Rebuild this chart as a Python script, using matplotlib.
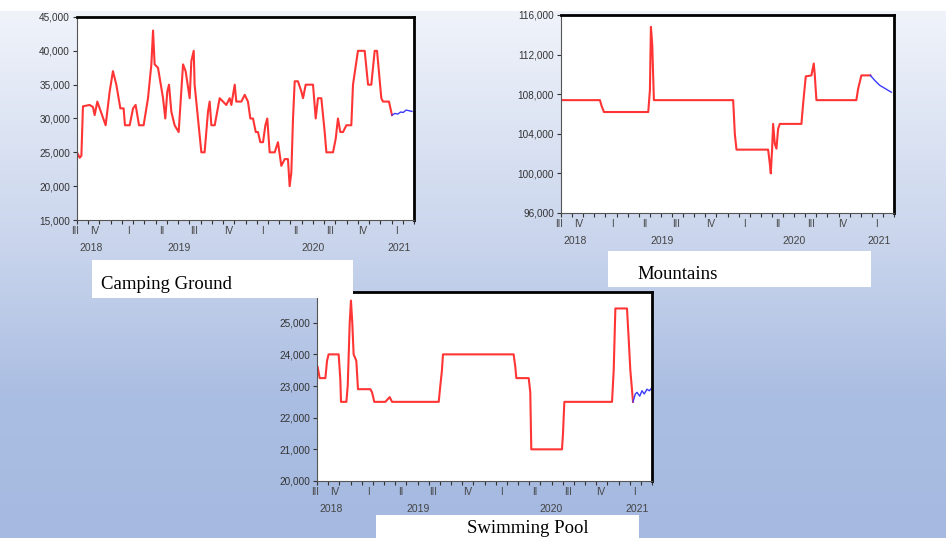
import numpy as np
import matplotlib
matplotlib.use('Agg')
import matplotlib.pyplot as plt
from matplotlib.patches import Rectangle

# time axis in months from the start of the sample (late Q3 2018)
quarter_labels = ['III', 'IV', 'I', 'II', 'III', 'IV', 'I', 'II', 'III', 'IV', 'I']
quarter_pos = [-0.2, 1.6, 4.6, 7.5, 10.4, 13.5, 16.5, 19.5, 22.5, 25.4, 28.4]
year_labels = ['2018', '2019', '2020', '2021']
year_pos = [1.3, 9.1, 21.0, 28.7]

# Camping Ground
camp_t = [0.00, 0.24, 0.39, 0.53, 1.13, 1.42, 1.57, 1.81, 2.02, 2.55, 2.91, 3.20, 3.50, 3.86,
          4.15, 4.27, 4.69, 4.99, 5.22, 5.52, 5.93, 6.32, 6.62, 6.77, 6.91, 7.21, 7.66, 7.86,
          8.04, 8.19, 8.40, 8.69, 9.05, 9.44, 9.67, 10.03, 10.18, 10.39, 10.47, 10.77, 11.07,
          11.36, 11.66, 11.81, 11.96, 12.26, 12.70, 13.00, 13.29, 13.59, 13.74, 14.04, 14.18,
          14.63, 14.93, 15.22, 15.43, 15.67, 15.91, 16.11, 16.32, 16.56, 16.77, 16.94, 17.15,
          17.60, 17.89, 18.19, 18.49, 18.78, 18.93, 19.08, 19.23, 19.38, 19.67, 19.97, 20.12,
          20.36, 21.01, 21.25, 21.45, 21.75, 22.05, 22.20, 22.79, 23.03, 23.23, 23.44, 23.68,
          23.98, 24.42, 24.57, 25.01, 25.61, 25.91, 26.20, 26.50, 26.71, 27.09, 27.24, 27.77, 28.04]
camp_v = [25000, 24200, 24500, 31800, 32000, 31700, 30500, 32500, 31500, 29000, 34000, 37000,
          35000, 31500, 31500, 29000, 29000, 31500, 32000, 29000, 29000, 33000, 38000, 43000,
          38000, 37500, 33000, 30000, 34000, 35000, 31000, 29000, 28000, 38000, 37000, 33000,
          38500, 40000, 35000, 30000, 25000, 25000, 31000, 32500, 29000, 29000, 33000, 32500,
          32000, 33000, 32000, 35000, 32500, 32500, 33500, 32500, 30000, 30000, 28000, 28000,
          26500, 26500, 29000, 30000, 25000, 25000, 26500, 23000, 24000, 24000, 20000, 22000,
          30000, 35500, 35500, 34000, 33000, 35000, 35000, 30000, 33000, 33000, 28000, 25000,
          25000, 27000, 30000, 28000, 28000, 29000, 29000, 35000, 40000, 40000, 35000, 35000,
          40000, 40000, 33000, 32500, 32500, 30500]
camp_fc_t = [28.04, 28.30, 28.55, 28.80, 29.05, 29.30, 29.55, 29.82]
camp_fc_v = [30500, 30750, 30650, 30950, 30900, 31250, 31150, 31050]

# Mountains
mount_t = [0, 3.51, 3.66, 3.87, 7.86, 8.01, 8.10, 8.22, 8.31, 8.37, 15.51, 15.66, 15.81, 18.66,
           18.81, 18.90, 19.02, 19.11, 19.26, 19.41, 19.56, 19.71, 21.66, 21.81, 22.05, 22.56,
           22.77, 22.86, 23.01, 26.61, 26.76, 27.06, 27.87]
mount_v = [107400, 107400, 106800, 106200, 106200, 108400, 114800, 113000, 109600, 107400,
           107400, 104000, 102400, 102400, 101000, 100000, 102500, 105000, 103000, 102500,
           104500, 105000, 105000, 107000, 109800, 109900, 111100, 110000, 107400, 107400,
           108500, 109900, 109900]
mount_fc_t = [27.87, 28.26, 28.71, 29.16, 29.76]
mount_fc_v = [109900, 109400, 108900, 108600, 108200]

# Swimming Pool
swim_t = [0.06, 0.24, 0.75, 0.90, 1.04, 1.94, 2.09, 2.15, 2.63, 2.75, 2.93, 3.04, 3.16, 3.28,
          3.52, 3.67, 4.78, 4.93, 5.13, 6.12, 6.51, 6.72, 10.90, 11.04, 11.19, 11.28, 17.61,
          17.76, 17.85, 18.96, 19.10, 19.19, 21.94, 22.03, 22.15, 26.42, 26.57, 26.72, 27.76,
          27.91, 28.06, 28.30]
swim_v = [23600, 23250, 23250, 23800, 24000, 24000, 23200, 22500, 22500, 23000, 25000, 25700,
          25000, 24000, 23800, 22900, 22900, 22800, 22500, 22500, 22650, 22500, 22500, 23000,
          23500, 24000, 24000, 23600, 23250, 23250, 22800, 21000, 21000, 21500, 22500, 22500,
          23500, 25450, 25450, 24500, 23500, 22500]
swim_fc_t = [28.30, 28.51, 28.66, 28.90, 29.10, 29.31, 29.55, 29.76, 30.0]
swim_fc_v = [22500, 22750, 22800, 22680, 22850, 22750, 22900, 22850, 22950]

W, H = 946, 538
fig = plt.figure(figsize=(W / 100, H / 100), dpi=100)

# slide background: white strip then blue gradient
bg = fig.add_axes([0, 0, 1, 1], zorder=-10)
ys = np.arange(H)
stop_y = [0, 10, 11, 250, 400, 538]
stop_c = np.array([[255, 255, 255], [255, 255, 255], [240, 243, 250],
                   [200, 212, 236], [170, 189, 226], [166, 186, 225]]) / 255
grad = np.stack([np.interp(ys, stop_y, stop_c[:, i]) for i in range(3)], axis=1)
bg.imshow(np.repeat(grad[:, None, :], W, axis=1), extent=[0, W, H, 0], aspect='auto')
bg.axis('off')


def px_axes(x0, y0, x1, y1):
    return fig.add_axes([x0 / W, 1 - y1 / H, (x1 - x0) / W, (y1 - y0) / H])


def draw(ax, t, v, ft, fv, ylim, yticks):
    ax.plot(t, v, color='#ff3535', lw=1.5)
    ax.plot(ft, fv, color='#3a3aff', lw=1.0)
    ax.set_xlim(0, 30)
    ax.set_ylim(*ylim)
    ax.set_yticks(yticks)
    ax.set_yticklabels([f'{y:,}' for y in yticks], fontsize=7.2, color='#333333',
                       family='Liberation Sans')
    ax.set_xticks(np.arange(0, 31))
    ax.set_xticklabels([])
    ax.tick_params(direction='out', length=3, width=0.8, color='#333333', pad=2)
    for s in ['left', 'bottom']:
        ax.spines[s].set_color('#555555')
        ax.spines[s].set_linewidth(0.8)
    for s in ['top', 'right']:
        ax.spines[s].set_color('black')
        ax.spines[s].set_linewidth(2)
    for lab, p in zip(quarter_labels, quarter_pos):
        ax.annotate(lab, xy=(p, 0), xycoords=('data', 'axes fraction'), xytext=(0, -8),
                    textcoords='offset points', ha='center', va='center', fontsize=7,
                    color='#444444', family='Liberation Sans', annotation_clip=False)
    for lab, p in zip(year_labels, year_pos):
        ax.annotate(lab, xy=(p, 0), xycoords=('data', 'axes fraction'), xytext=(0, -20),
                    textcoords='offset points', ha='center', va='center', fontsize=7.5,
                    color='#444444', family='Liberation Sans', annotation_clip=False)


ax1 = px_axes(77, 17, 414, 220)
draw(ax1, camp_t, camp_v, camp_fc_t, camp_fc_v, (15000, 45000), list(range(15000, 45001, 5000)))
ax2 = px_axes(561, 15, 894, 213)
draw(ax2, mount_t, mount_v, mount_fc_t, mount_fc_v, (96000, 116000), list(range(96000, 116001, 4000)))
ax3 = px_axes(317, 292, 652, 481)
draw(ax3, swim_t, swim_v, swim_fc_t, swim_fc_v, (20000, 25970), list(range(20000, 25001, 1000)))

# caption boxes on top
top = fig.add_axes([0, 0, 1, 1], zorder=10)
top.set_xlim(0, W)
top.set_ylim(H, 0)
top.axis('off')
top.patch.set_alpha(0)
for (x0, y0, x1, y1), name, tx, ty in [((92, 260, 353, 298), 'Camping Ground', 101, 289),
                                       ((608, 251, 871, 287), 'Mountains', 637, 279),
                                       ((376, 515, 639, 540), 'Swimming Pool', 467, 533)]:
    top.add_patch(Rectangle((x0, y0), x1 - x0, y1 - y0, facecolor='white', edgecolor='none'))
    top.text(tx, ty, name, fontsize=13.5, family='Liberation Serif', va='baseline', ha='left')

fig.savefig('out.png', dpi=100)
